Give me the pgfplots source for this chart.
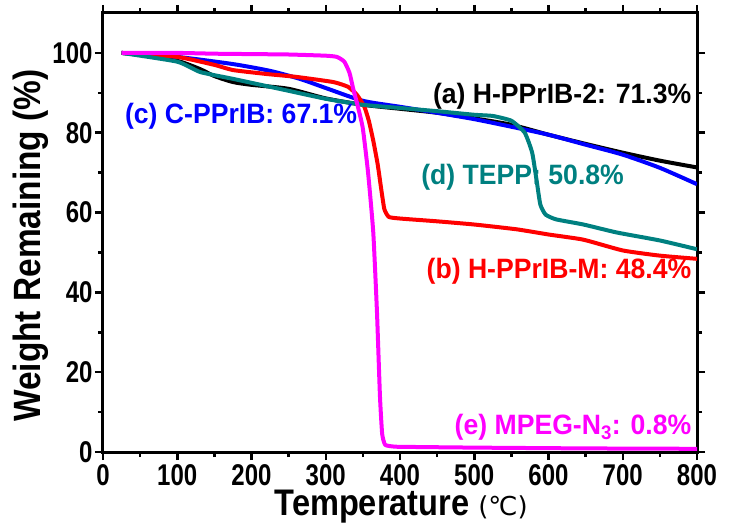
\documentclass[border=0pt]{standalone}
\usepackage{pgfplots}
\pgfplotsset{compat=1.18}
\usepackage{fontspec}
\setmainfont{Liberation Sans}
\newfontfamily\dejavu{DejaVu Sans}
\newfontfamily\tickfont[FakeStretch=0.8]{Liberation Sans}
\newfontfamily\annfont[FakeStretch=0.95]{Liberation Sans}
\newfontfamily\labfont[FakeStretch=0.88]{Liberation Sans}
\usetikzlibrary{calc}
\definecolor{cteal}{RGB}{0,128,128}
\definecolor{cmag}{RGB}{255,0,255}
\definecolor{cred}{RGB}{255,0,0}
\definecolor{cblue}{RGB}{0,0,255}
\begin{document}
\begin{tikzpicture}
\begin{axis}[
 scale only axis, width=594pt, height=439pt,
 xmin=0, xmax=800, ymin=0, ymax=110,
 xtick={0,100,...,800}, ytick={0,20,...,100},
 minor xtick={50,150,...,750}, minor ytick={10,30,...,90},
 tick align=outside, tick pos=both,
 major tick length=8pt, minor tick length=5pt,
 axis line style={line width=3pt},
 every tick/.style={line width=2.5pt, black},
 every tick label/.append style={font=\fontsize{30}{30}\selectfont\tickfont\bfseries},
 /pgf/number format/assume math mode=true,
 xticklabel style={yshift=-1pt},
 yticklabel style={xshift=1pt},
 xlabel={{\fontsize{37}{37}\selectfont\labfont\bfseries Temperature}\hspace{9pt}{\fontsize{26}{26}\selectfont\dejavu (℃)}},
 ylabel={\fontsize{38}{38}\selectfont\labfont\bfseries Weight Remaining (\%)},
 xlabel style={at={(axis description cs:0.502,-0.125)}, anchor=center},
 ylabel style={at={(axis description cs:-0.1212,0.47)}, anchor=center},
 every axis plot/.append style={line width=4pt, line join=round},
 clip=true,
]
% (a) black
\addplot[black, smooth, tension=0.4] coordinates {
(25,100) (50,99.5) (100,98) (130,96) (150,94.2) (175,92.7) (200,92) (250,91) (300,88.6) (350,87) (400,86) (450,85) (500,83.6) (550,82) (600,79.5) (650,77.2) (700,75) (750,73) (800,71.3)};
% (c) blue
\addplot[cblue, smooth, tension=0.4] coordinates {
(25,100) (100,99) (175,97.2) (225,95.5) (265,93.5) (300,91.2) (350,88) (400,86.5) (450,85) (500,83.4) (550,81.5) (600,79.5) (650,77) (700,74.5) (750,71.2) (800,67.1)};
% (b) red
\addplot[cred, smooth, tension=0.3] coordinates {
(25,100) (100,99) (150,97) (175,95.7) (221,94.7) (260,94) (310,92.7) (330,91.5) (342,89.5) (352,86.5) (358,83) (364,78) (370,72) (375,65.5) (379,60.8) (385,58.9) (400,58.5) (450,57.8) (500,57) (557,55.8) (600,54.5) (647,53.2) (700,50.5) (750,49.2) (800,48.4)};
% (d) teal
\addplot[cteal, smooth, tension=0.3] coordinates {
(25,100) (100,97.8) (131,95.2) (175,93.5) (200,92.5) (250,90.5) (300,88.5) (350,87) (400,86.2) (450,85.4) (500,84.5) (525,84.2) (550,83) (568,80) (578,75) (584,68) (589,62) (596,59.5) (610,58.3) (647,57) (692,55) (750,53) (800,50.8)};
% (e) magenta
\addplot[cmag, smooth, tension=0.3] coordinates {
(25,100) (100,100) (150,99.8) (200,99.7) (250,99.6) (300,99.3) (315,99) (325,97.8) (332,95) (337,91) (344,86) (350,81) (357,70) (364,55) (369,35) (373,14) (376,4.5) (380,1.8) (390,1.4) (400,1.3) (500,1.1) (650,0.9) (800,0.8)};
\node[anchor=east, text=black, font=\fontsize{28}{28}\selectfont\annfont\bfseries] at (axis cs:797,89.2) {(a) H-PPrIB-2: 71.3\%};
\node[anchor=west, text=cblue, font=\fontsize{28}{28}\selectfont\annfont\bfseries] at (axis cs:25,84.2) {(c) C-PPrIB: 67.1\%};
\node[anchor=west, text=cteal, font=\fontsize{28}{28}\selectfont\annfont\bfseries] at (axis cs:424,68.8) {(d) TEPP: 50.8\%};
\node[anchor=east, text=cred, font=\fontsize{28}{28}\selectfont\annfont\bfseries] at (axis cs:797,45.2) {(b) H-PPrIB-M: 48.4\%};
\node[anchor=base east, text=cmag, font=\fontsize{28}{28}\selectfont\annfont\bfseries] at (axis cs:797,4.3) {(e) MPEG-N\textsubscript{3}: 0.8\%};
\end{axis}
\pgfresetboundingbox
\path[use as bounding box] ($(current axis.south west)+(-103pt,-77pt)$) rectangle ($(current axis.north east)+(32pt,13pt)$);
\end{tikzpicture}
\end{document}
